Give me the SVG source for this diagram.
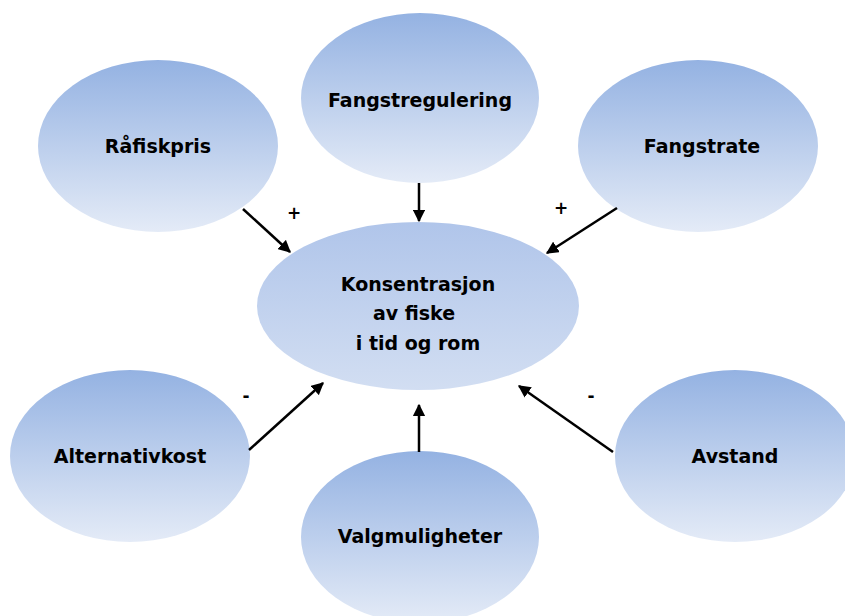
<svg xmlns="http://www.w3.org/2000/svg" width="845" height="616" viewBox="0 0 845 616">
<defs>
<linearGradient id="g" x1="0" y1="0" x2="0" y2="1">
<stop offset="0" stop-color="#94b2e2"/>
<stop offset="1" stop-color="#e4ebf7"/>
</linearGradient>
<linearGradient id="gc" x1="0" y1="0" x2="0" y2="1">
<stop offset="0" stop-color="#b0c5ea"/>
<stop offset="1" stop-color="#d2def2"/>
</linearGradient>
<marker id="ah" viewBox="0 0 10 10" refX="9" refY="5" markerWidth="5" markerHeight="5" orient="auto" markerUnits="strokeWidth">
<path d="M0,0 L10,5 L0,10 z" fill="#000"/>
</marker>
<style>
.n{fill:url(#g);}
.t{font-family:"Comic Sans MS","DejaVu Sans",sans-serif;font-weight:bold;font-size:19px;fill:#000;text-anchor:middle;dominant-baseline:central;}
.s{font-family:"DejaVu Sans",sans-serif;font-weight:bold;font-size:17px;fill:#000;text-anchor:middle;dominant-baseline:central;}
.c{stroke:#000;stroke-width:2.5;fill:none;marker-end:url(#ah);}
</style>
</defs>
<rect width="845" height="616" fill="#fff"/>
<g id="n-fangstregulering"><ellipse class="n" cx="420" cy="98" rx="119" ry="85"/><text class="t" x="420" y="100">Fangstregulering</text></g>
<g id="n-rafiskpris"><ellipse class="n" cx="158" cy="146" rx="120" ry="86"/><text class="t" x="158" y="146">Råfiskpris</text></g>
<g id="n-fangstrate"><ellipse class="n" cx="698" cy="146" rx="120" ry="86"/><text class="t" x="702" y="146">Fangstrate</text></g>
<g id="n-konsentrasjon"><ellipse fill="url(#gc)" cx="418" cy="306" rx="161" ry="84"/>
<text class="t" x="418" y="284">Konsentrasjon</text>
<text class="t" x="414" y="313">av fiske</text>
<text class="t" x="418" y="343">i tid og rom</text></g>
<g id="n-alternativkost"><ellipse class="n" cx="130" cy="456" rx="120" ry="86"/><text class="t" x="130" y="456">Alternativkost</text></g>
<g id="n-avstand"><ellipse class="n" cx="735" cy="456" rx="120" ry="86"/><text class="t" x="735" y="456">Avstand</text></g>
<g id="n-valgmuligheter"><ellipse class="n" cx="420" cy="537" rx="119" ry="86"/><text class="t" x="420" y="536">Valgmuligheter</text></g>
<g id="connectors">
<line class="c" x1="243" y1="209" x2="290" y2="252"/>
<line class="c" x1="419" y1="183" x2="419" y2="221"/>
<line class="c" x1="617" y1="208" x2="547" y2="253"/>
<line class="c" x1="249" y1="450" x2="323" y2="383"/>
<line class="c" x1="419" y1="452" x2="419" y2="405"/>
<line class="c" x1="613" y1="452" x2="519" y2="386"/>
<text class="s" x="294" y="213">+</text>
<text class="s" x="561" y="208">+</text>
<text class="s" x="246" y="396">-</text>
<text class="s" x="591" y="396">-</text>
</g>
</svg>
